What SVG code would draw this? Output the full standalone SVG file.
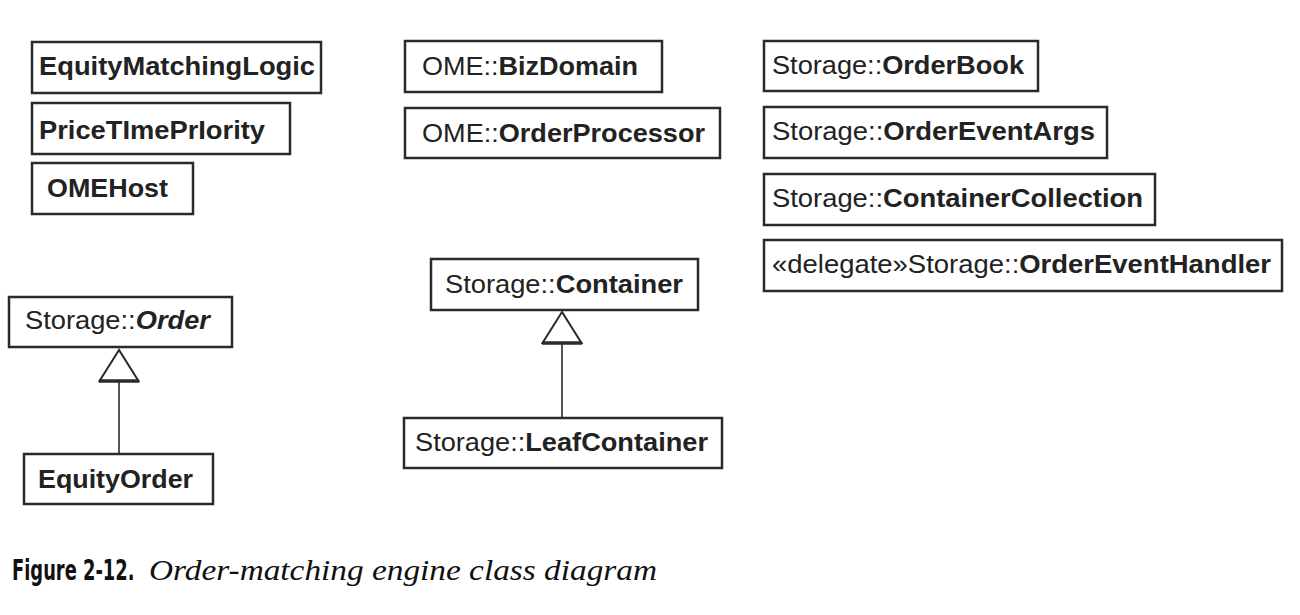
<svg xmlns="http://www.w3.org/2000/svg" width="1300" height="615" viewBox="0 0 1300 615">
<style>
.box{fill:#fff;stroke:#2a2a2a;stroke-width:2.5}
.t{font-family:"Liberation Sans",Arial,sans-serif;font-size:25px;fill:#222}
.b{font-weight:bold}
.bi{font-weight:bold;font-style:italic}
.conn{stroke:#2a2a2a;stroke-width:1.6;fill:none}
.cap1{font-family:"DejaVu Sans Condensed","Liberation Sans",sans-serif;font-weight:bold;font-size:28px;fill:#111}
.cap2{font-family:"Liberation Serif","Times New Roman",serif;font-style:italic;font-size:30px;fill:#111}
</style>
<defs>
<marker id="gen" markerUnits="userSpaceOnUse" markerWidth="40" markerHeight="44" viewBox="-2 -2 36 44" refX="31" refY="19.5" orient="auto">
<polygon points="31,19.5 0,0 0,39" fill="#fff" stroke="#2a2a2a" stroke-width="2"/>
<line x1="0" y1="-0.5" x2="0" y2="39.5" stroke="#2a2a2a" stroke-width="3.5"/>
</marker>
</defs>
<rect width="1300" height="615" fill="#fff"/>
<g id="connectors">
<path class="conn" d="M119,453 V350" marker-end="url(#gen)"/>
<path class="conn" d="M562,417 V312" marker-end="url(#gen)"/>
</g>
<g id="EquityMatchingLogic"><rect class="box" x="32" y="42" width="289" height="51"/><text class="t b" x="39" y="75" textLength="276" lengthAdjust="spacingAndGlyphs">EquityMatchingLogic</text></g>
<g id="PriceTimePriority"><rect class="box" x="32" y="103" width="258" height="51"/><text class="t b" x="39" y="139" textLength="226" lengthAdjust="spacingAndGlyphs">PriceTImePrIority</text></g>
<g id="OMEHost"><rect class="box" x="32" y="163" width="161" height="51"/><text class="t b" x="47" y="197" textLength="121" lengthAdjust="spacingAndGlyphs">OMEHost</text></g>
<g id="BizDomain"><rect class="box" x="405" y="41" width="257" height="51"/><text class="t" x="422" y="75" textLength="216" lengthAdjust="spacingAndGlyphs">OME::<tspan class="b">BizDomain</tspan></text></g>
<g id="OrderProcessor"><rect class="box" x="405" y="108" width="315" height="50"/><text class="t" x="422" y="142" textLength="283" lengthAdjust="spacingAndGlyphs">OME::<tspan class="b">OrderProcessor</tspan></text></g>
<g id="OrderBook"><rect class="box" x="764" y="41" width="274" height="50"/><text class="t" x="772" y="74" textLength="252" lengthAdjust="spacingAndGlyphs">Storage::<tspan class="b">OrderBook</tspan></text></g>
<g id="OrderEventArgs"><rect class="box" x="764" y="107" width="343" height="51"/><text class="t" x="772" y="140" textLength="323" lengthAdjust="spacingAndGlyphs">Storage::<tspan class="b">OrderEventArgs</tspan></text></g>
<g id="ContainerCollection"><rect class="box" x="764" y="174" width="391" height="51"/><text class="t" x="772" y="207" textLength="371" lengthAdjust="spacingAndGlyphs">Storage::<tspan class="b">ContainerCollection</tspan></text></g>
<g id="OrderEventHandler"><rect class="box" x="764" y="240" width="518" height="51"/><text class="t" x="772" y="273" textLength="499" lengthAdjust="spacingAndGlyphs">«delegate»Storage::<tspan class="b">OrderEventHandler</tspan></text></g>
<g id="Order"><rect class="box" x="9" y="297" width="223" height="50"/><text class="t" x="25" y="329" textLength="185" lengthAdjust="spacingAndGlyphs">Storage::<tspan class="bi">Order</tspan></text></g>
<g id="EquityOrder"><rect class="box" x="24" y="454" width="189" height="50"/><text class="t b" x="38" y="488" textLength="155" lengthAdjust="spacingAndGlyphs">EquityOrder</text></g>
<g id="Container"><rect class="box" x="431" y="259" width="267" height="51"/><text class="t" x="445" y="293" textLength="238" lengthAdjust="spacingAndGlyphs">Storage::<tspan class="b">Container</tspan></text></g>
<g id="LeafContainer"><rect class="box" x="404" y="418" width="318" height="50"/><text class="t" x="415" y="451" textLength="293" lengthAdjust="spacingAndGlyphs">Storage::<tspan class="b">LeafContainer</tspan></text></g>
<g id="caption">
<text class="cap1" transform="translate(12,580) scale(0.71,1)" x="0" y="0">Figure 2-12.</text>
<text class="cap2" x="149" y="580" textLength="508" lengthAdjust="spacingAndGlyphs">Order-matching engine class diagram</text>
</g>
</svg>
